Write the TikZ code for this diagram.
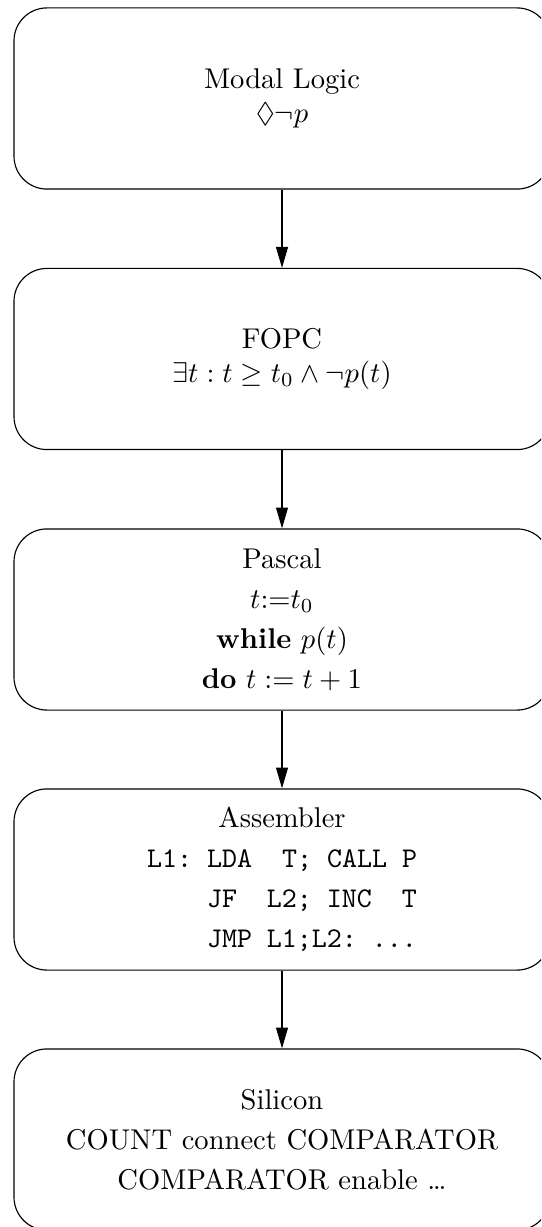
\documentclass[tikz,border=0pt]{standalone}
\usepackage{amssymb}
\usetikzlibrary{arrows.meta}

\tikzset{
  levelbox/.style={draw, rounded corners=11.5pt, minimum width=187.6pt,
    minimum height=63.4pt, inner sep=0pt, align=center},
  levelarrow/.style={-{Triangle[length=7.3pt,width=4.2pt]}}
}

\begin{document}
\begin{tikzpicture}[x=0.35pt,y=0.35pt,yscale=-1,xscale=1]
%set diagram size: 541 x 1227
\clip (0,0) rectangle (541,1227);

% Levels
\node[levelbox] (modal) at (282,98.5) {Modal Logic\\ $\Diamond\neg p$};
\node[levelbox] (fopc) at (282,359) {FOPC\\ $\exists t : t \geq t_0 \wedge \neg p(t)$};
\node[levelbox] (pascal) at (282,619.5) {Pascal\\[2pt] $t{:}{=}t_0$\\[2pt]
  \textbf{while} $p(t)$\\[2pt] \textbf{do} $t := t+1$};
\node[levelbox] (asm) at (282,879.5) {Assembler\\[2pt]
  \texttt{L1:~LDA~~T;~CALL~P}\\[2pt]
  \texttt{\phantom{L1:~}JF~~L2;~INC~~T}\\[2pt]
  \texttt{\phantom{L1:~}JMP~L1;L2:~...}};
\node[levelbox] (silicon) at (282,1139.5) {Silicon\\[2pt] COUNT connect COMPARATOR\\[2pt]
  COMPARATOR enable \ldots};

% Arrows
\draw[levelarrow] (modal) -- (fopc);
\draw[levelarrow] (fopc) -- (pascal);
\draw[levelarrow] (pascal) -- (asm);
\draw[levelarrow] (asm) -- (silicon);

\end{tikzpicture}
\end{document}
